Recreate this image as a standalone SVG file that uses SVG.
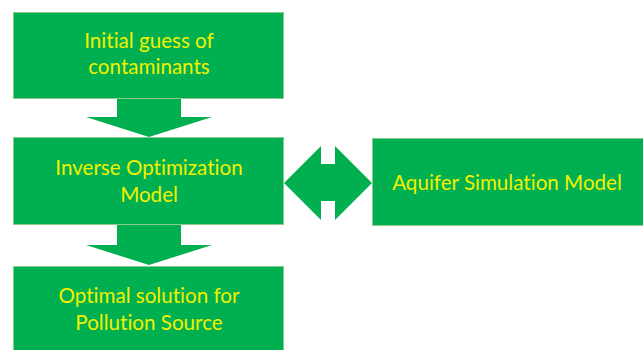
<svg xmlns="http://www.w3.org/2000/svg" width="643" height="350" viewBox="0 0 643 350">
  <style>
    .box { fill: #00B050; stroke: #8CCB8C; stroke-width: 1; }
    .arrow { fill: #00B050; stroke: none; }
    .label { fill: #F0F000; font-family: Lato, "Open Sans", "Liberation Sans", sans-serif; font-size: 20.6px; text-anchor: middle; font-variant-ligatures: none; }
  </style>
  <rect width="643" height="350" fill="#FFFFFF"/>

  <g id="connectors">
    <!-- down arrow: initial guess -> inverse model -->
    <polygon class="arrow" points="117,98 181,98 181,117 212,117 149,137 86,117 117,117"/>
    <!-- down arrow: inverse model -> optimal solution -->
    <polygon class="arrow" points="117,225 181,225 181,245 212,245 149,265 86,245 117,245"/>
    <!-- two-way arrow: inverse model <-> aquifer simulation -->
    <polygon class="arrow" points="284,183 321,146 321,164 335,164 335,146 372,183 335,220 335,201 321,201 321,220"/>
  </g>

  <g id="initial-guess">
    <rect class="box" x="13.5" y="12.5" width="270" height="86"/>
    <text class="label" x="149" y="48">Initial guess of</text>
    <text class="label" x="149" y="74">contaminants</text>
  </g>

  <g id="inverse-model">
    <rect class="box" x="13.5" y="137.5" width="270" height="87"/>
    <text class="label" x="149" y="175">Inverse Optimization</text>
    <text class="label" x="149" y="202">Model</text>
  </g>

  <g id="aquifer-model">
    <rect class="box" x="372.5" y="138.5" width="272" height="87"/>
    <text class="label" x="507" y="190">Aquifer Simulation Model</text>
  </g>

  <g id="optimal-solution">
    <rect class="box" x="13.5" y="266.5" width="270" height="90"/>
    <text class="label" x="149" y="303">Optimal solution for</text>
    <text class="label" x="149" y="330">Pollution Source</text>
  </g>
</svg>
